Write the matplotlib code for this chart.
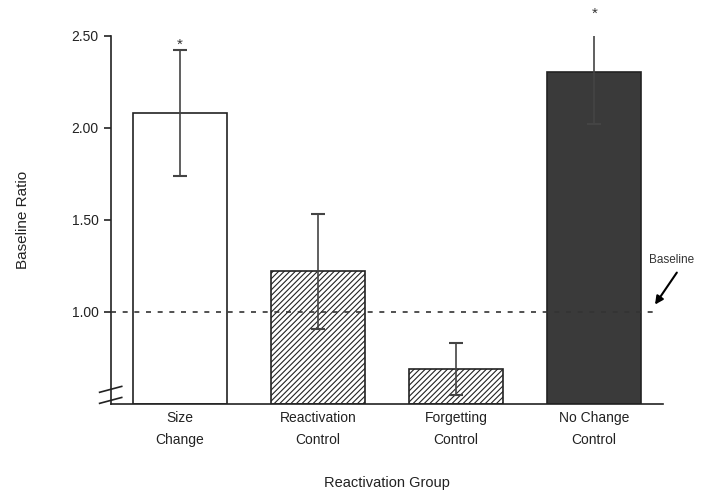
import matplotlib
matplotlib.use("Agg")
from matplotlib import pyplot as plt
import numpy as np

plt.rcParams['font.family'] = ['Liberation Sans', 'DejaVu Sans']
plt.rcParams['hatch.linewidth'] = 0.8

# Data
groups = ["Size\nChange", "Reactivation\nControl", "Forgetting\nControl", "No Change\nControl"]
ratio = [2.08, 1.22, 0.69, 2.30]
err_low = [1.74, 0.91, 0.55, 2.02]
err_high = [2.42, 1.53, 0.83, 2.59]
significant = [True, False, False, True]
yticks = [1.00, 1.50, 2.00, 2.50]

fig = plt.figure(figsize=(7.14, 4.94), dpi=100)
ax = fig.add_axes([0.155, 0.182, 0.774, 0.746])

x = np.arange(len(groups))
faces = ['white', 'white', 'white', '#3a3a3a']
hatches = ['', '//////', '//////', '']
for i in range(len(groups)):
    ax.bar(x[i], ratio[i] - 0.5, bottom=0.5, width=0.68, color=faces[i],
           edgecolor='#222222', linewidth=1.2, hatch=hatches[i], zorder=2)

# error bars (drawn from bar mean to the ends)
lo = np.array(ratio) - np.array(err_low)
hi = np.array(err_high) - np.array(ratio)
ax.errorbar(x, ratio, yerr=[lo, hi], fmt='none', ecolor='#444444',
            elinewidth=1.2, capsize=5, capthick=1.5, zorder=3)

for i in range(len(groups)):
    if significant[i]:
        ax.text(x[i], err_high[i] - 0.01, '*', ha='center', va='bottom',
                fontsize=11, color='#333333')

# baseline
ax.axhline(1.0, xmin=0, xmax=0.985, color='#333333', linestyle=(0, (3, 4)),
           linewidth=1.2, zorder=4)
ax.annotate('Baseline', xy=(3.44, 1.04), xytext=(3.40, 1.28),
            fontsize=8.5, color='#333333', ha='left', va='center',
            arrowprops=dict(arrowstyle='-|>', color='black', lw=1.5,
                            mutation_scale=12, shrinkA=3, shrinkB=0,
                            relpos=(0.7, 0)),
            annotation_clip=False)

ax.set_xlim(-0.5, 3.5)
ax.set_ylim(0.5, 2.5)
ax.set_yticks(yticks)
ax.set_yticklabels([f"{v:.2f}" for v in yticks])
ax.set_xticks(x)
ax.set_xticklabels(groups, linespacing=1.7)
ax.tick_params(axis='x', length=0, pad=5, labelsize=10, colors='#222222')
ax.tick_params(axis='y', length=5, width=1.2, labelsize=10, colors='#222222')

for s in ['top', 'right']:
    ax.spines[s].set_visible(False)
for s in ['left', 'bottom']:
    ax.spines[s].set_linewidth(1.2)
    ax.spines[s].set_color('#222222')

# axis break marks
kw = dict(transform=ax.transAxes, color='#222222', lw=1.2, clip_on=False)
for yy in [0.04, 0.01]:
    ax.plot([-0.02, 0.02], [yy - 0.008, yy + 0.008], **kw)

ax.set_ylabel("Baseline Ratio", fontsize=11, labelpad=30, color='#222222')
ax.set_xlabel("Reactivation Group", fontsize=10.5, labelpad=21, color='#222222')

fig.savefig("out.png", dpi=100)
